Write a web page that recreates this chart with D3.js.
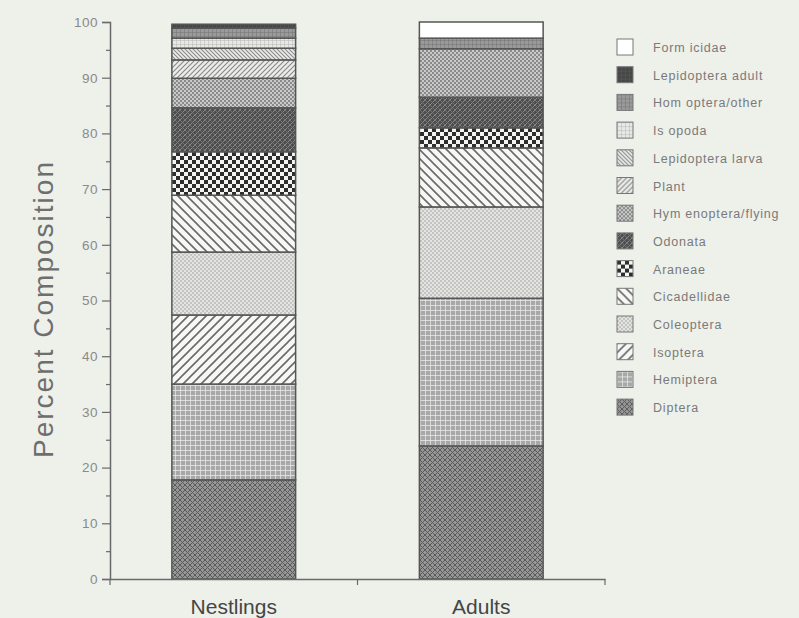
<html>
<head>
<script src="https://cdnjs.cloudflare.com/ajax/libs/d3/7.8.5/d3.min.js"></script>
<style>
  body { margin: 0; background: #eef0ea; }
  text { font-family: "Liberation Sans", Arial, sans-serif; }
</style>
</head>
<body>
<script>
// categories and series (bottom of stack first)
var categories = ["Nestlings", "Adults"];
var taxa = ["Diptera", "Hemiptera", "Isoptera", "Coleoptera", "Cicadellidae", "Araneae",
            "Odonata", "Hymenoptera/flying", "Plant", "Lepidoptera larva", "Isopoda",
            "Homoptera/other", "Lepidoptera adult", "Formicidae"];
var nestlings = [17.8, 17.2, 12.4, 11.3, 10.2, 7.8, 7.9, 5.3, 3.3, 2.1, 1.8, 1.8, 0.7, 0];
var adults    = [23.9, 26.5, 0, 16.4, 10.6, 3.6, 5.5, 8.7, 0, 0, 0, 1.9, 0, 2.9];
var yTicks = [0, 10, 20, 30, 40, 50, 60, 70, 80, 90, 100];
var legendLabels = ["Diptera", "Hemiptera", "Isoptera", "Coleoptera", "Cicadellidae", "Araneae",
            "Odonata", "Hym enoptera/flying", "Plant", "Lepidoptera larva", "Is opoda",
            "Hom optera/other", "Lepidoptera adult", "Form icidae"];

var w = 799, h = 618;
var svg = d3.select("body").append("svg").attr("width", w).attr("height", h);
svg.append("rect").attr("width", w).attr("height", h).attr("fill", "#eef0ea");

var defs = svg.append("defs");
// pattern helper
function pat(id, size, bg, draw) {
  var p = defs.append("pattern").attr("id", id).attr("patternUnits", "userSpaceOnUse")
    .attr("width", size).attr("height", size);
  p.append("rect").attr("width", size).attr("height", size).attr("fill", bg);
  draw(p, size);
}
function diag(p, s, col, sw, dir) {
  var d = dir > 0
    ? "M0," + s + " L" + s + ",0 M" + (-s / 2) + "," + (s / 2) + " L" + (s / 2) + "," + (-s / 2) + " M" + (s / 2) + "," + (s * 1.5) + " L" + (s * 1.5) + "," + (s / 2)
    : "M0,0 L" + s + "," + s + " M" + (-s / 2) + "," + (s / 2) + " L" + (s / 2) + "," + (s * 1.5) + " M" + (s / 2) + "," + (-s / 2) + " L" + (s * 1.5) + "," + (s / 2);
  p.append("path").attr("d", d).attr("stroke", col).attr("stroke-width", sw).attr("fill", "none");
}
function checker(p, s, col) {
  var c = s / 2;
  p.append("rect").attr("width", c).attr("height", c).attr("fill", col);
  p.append("rect").attr("x", c).attr("y", c).attr("width", c).attr("height", c).attr("fill", col);
}
function grid(p, s, col, sw) {
  p.append("path").attr("d", "M0,0 H" + s + " M0,0 V" + s).attr("stroke", col).attr("stroke-width", sw);
}

pat("p0", 5, "#969696", function(p, s) { diag(p, s, "#5a5a5a", 1, 1); diag(p, s, "#5a5a5a", 1, -1); });
pat("p1", 5, "#a8a8a8", function(p, s) { grid(p, s, "#ececec", 1.4); });
pat("p2", 9, "#f7f7f5", function(p, s) { diag(p, s, "#6a6a6a", 1.6, 1); });
pat("p3", 4, "#e4e4e2", function(p, s) { checker(p, s, "#c4c4c2"); });
pat("p4", 9, "#f7f7f5", function(p, s) { diag(p, s, "#6a6a6a", 1.6, -1); });
pat("p5", 8, "#f4f4f2", function(p, s) { checker(p, s, "#2e2e2e"); });
pat("p6", 5, "#4e4e4e", function(p, s) { diag(p, s, "#8a8a8a", 1, 1); diag(p, s, "#7a7a7a", 0.8, -1); });
pat("p7", 4, "#cacaca", function(p, s) { checker(p, s, "#8a8a8a"); });
pat("p8", 5, "#ececea", function(p, s) { diag(p, s, "#8a8a8a", 1.2, 1); });
pat("p9", 4, "#ececea", function(p, s) { diag(p, s, "#8a8a8a", 1.1, -1); });
pat("p10", 4, "#e8e8e6", function(p, s) { grid(p, s, "#b4b4b4", 1); });
pat("p11", 4, "#9a9a9a", function(p, s) { grid(p, s, "#727272", 1); });
pat("p12", 4, "#474747", function(p, s) { grid(p, s, "#5a5a5a", 1); });
pat("p13", 4, "#ffffff", function(p, s) {});

// table for the stack
var table = categories.map(function(c, i) {
  var row = { cat: c };
  var vals = i === 0 ? nestlings : adults;
  taxa.forEach(function(t, j) { row[t] = vals[j]; });
  return row;
});
var series = d3.stack().keys(taxa)(table);

var x = d3.scaleBand().domain(categories).range([110, 605]).paddingInner(0.5).paddingOuter(0.25);
var y = d3.scaleLinear().domain([0, 100]).range([579, 22]);

// bars
svg.selectAll("g.layer")
  .data(series)
  .enter().append("g").attr("class", "layer")
  .attr("fill", function(d, i) { return "url(#p" + i + ")"; })
  .selectAll("rect")
  .data(function(d) { return d.filter(function(s) { return s[1] - s[0] > 0; }); })
  .enter().append("rect")
  .attr("x", function(d) { return x(d.data.cat); })
  .attr("y", function(d) { return y(d[1]); })
  .attr("width", x.bandwidth())
  .attr("height", function(d) { return y(d[0]) - y(d[1]); })
  .attr("stroke", "#555")
  .attr("stroke-width", 1.5);

// y axis
var yAxis = svg.append("g").attr("transform", "translate(110,0)")
  .call(d3.axisLeft(y).tickValues(yTicks).tickSize(8).tickPadding(4));
yAxis.select(".domain").attr("stroke", "#6a6a6a").attr("stroke-width", 1.5);
yAxis.selectAll(".tick line").attr("stroke", "#6a6a6a").attr("stroke-width", 1.2);
yAxis.selectAll(".tick text").attr("fill", "#8a8a8a").attr("font-size", 13.5).attr("letter-spacing", 0.5);
var minor = svg.append("g").attr("transform", "translate(110,0)")
  .call(d3.axisLeft(y).tickValues(d3.range(5, 100, 10)).tickSize(4).tickFormat(""));
minor.select(".domain").remove();
minor.selectAll(".tick line").attr("stroke", "#6a6a6a").attr("stroke-width", 1.2);

// x axis
var xAxis = svg.append("g").attr("transform", "translate(0,579)")
  .call(d3.axisBottom(x).tickSize(0).tickPadding(20));
xAxis.select(".domain").attr("stroke", "#6a6a6a").attr("stroke-width", 1.5);
xAxis.selectAll(".tick text").attr("fill", "#454545").attr("font-size", 21);
var bounds = [x.range()[0], x.range()[0] + x.step(), x.range()[1]];
svg.append("g").selectAll("line").data(bounds).enter().append("line")
  .attr("x1", function(d) { return d; }).attr("x2", function(d) { return d; })
  .attr("y1", 579).attr("y2", 585)
  .attr("stroke", "#6a6a6a").attr("stroke-width", 1.2);

// y label
svg.append("text")
  .attr("transform", "translate(53,309) rotate(-90)")
  .attr("text-anchor", "middle")
  .attr("font-size", 28)
  .attr("letter-spacing", 2)
  .attr("fill", "#6e6e6e")
  .text("Percent Composition");

// legend, top of stack first
var order = d3.range(taxa.length).reverse();
var leg = svg.append("g").selectAll("g").data(order).enter().append("g")
  .attr("transform", function(d, i) { return "translate(617," + (39 + i * 27.7) + ")"; });
leg.append("rect").attr("width", 16).attr("height", 16)
  .attr("fill", function(d) { return "url(#p" + d + ")"; })
  .attr("stroke", "#777").attr("stroke-width", 1);
leg.append("text").attr("x", 36).attr("y", 13)
  .attr("font-size", 12.5).attr("letter-spacing", 0.8).attr("fill", "#7a7a7a")
  .text(function(d) { return legendLabels[d]; });
</script>
</body>
</html>
